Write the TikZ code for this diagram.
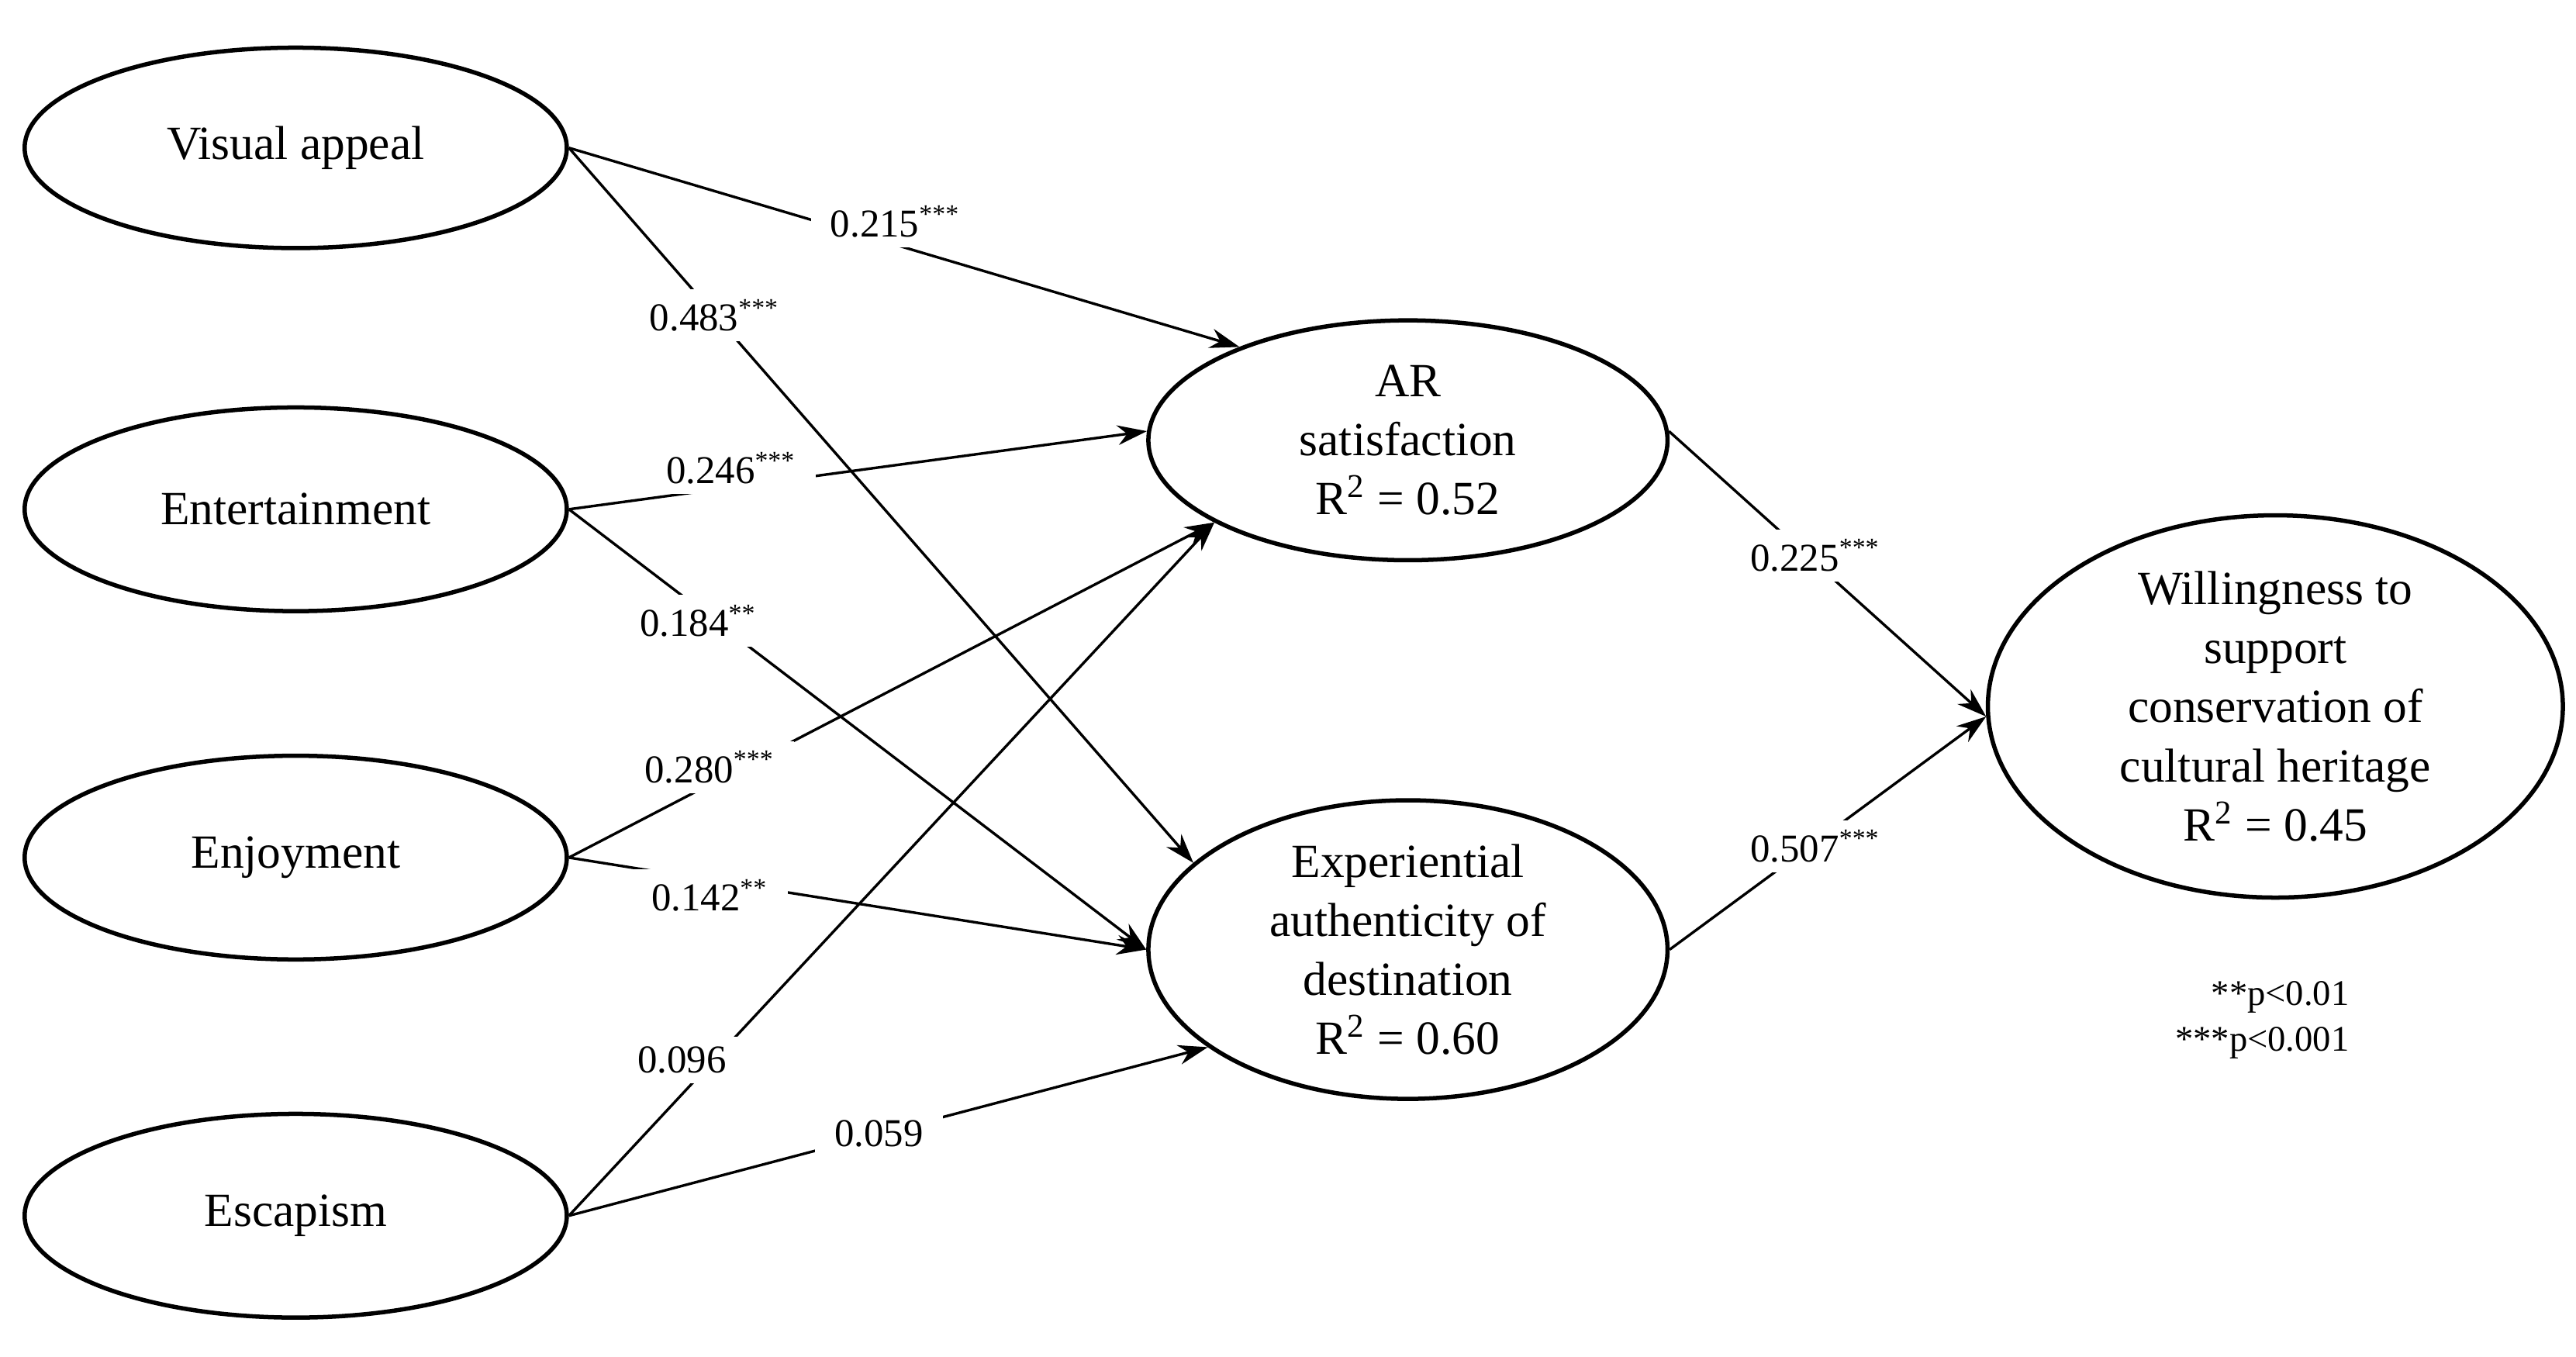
\documentclass[tikz,border=0pt]{standalone}
\usepackage{fontspec}
\setmainfont{Liberation Serif}
\usetikzlibrary{shapes.geometric,arrows.meta}
\begin{document}
\begin{tikzpicture}[x=0.5pt,y=-0.5pt,
  el/.style={draw,line width=1.3pt,ellipse,inner sep=0pt,font=\fontsize{14.5}{18}\selectfont,align=center},
  lab/.style={fill=white,inner xsep=6pt,inner ysep=3pt,font=\fontsize{12}{14}\selectfont},
  ar/.style={line width=0.8pt,-{Stealth[length=9pt,width=6pt]}}]
\useasboundingbox (0,0) rectangle (1568,826);
\node[el,minimum width=165pt,minimum height=61pt] (va) at (180,90) {Visual appeal};
\node[el,minimum width=165pt,minimum height=62pt] (en) at (180,310) {Entertainment};
\node[el,minimum width=165pt,minimum height=62pt] (ej) at (180,522) {Enjoyment};
\node[el,minimum width=165pt,minimum height=62pt] (es) at (180,740) {Escapism};
\node[el,minimum width=158pt,minimum height=73pt] (as) at (857,268) {AR\\satisfaction\\R\textsuperscript{2} = 0.52};
\node[el,minimum width=158pt,minimum height=78pt] (ex) at (857,578) {Experiential\\authenticity of\\destination\\R\textsuperscript{2} = 0.60};
\node[el,minimum width=175pt,minimum height=97pt] (wi) at (1385,430) {Willingness to\\support\\conservation of\\cultural heritage\\R\textsuperscript{2} = 0.45};

\draw[ar] (va.east) -- (as.151);
\draw[ar] (va.east) -- (ex.158);
\draw[ar] (en.east) -- (as.178);
\draw[ar] (en.east) -- (ex.180);
\draw[ar] (ej.east) -- (as.203);
\draw[ar] (ej.east) -- (ex.180);
\draw[ar] (es.east) -- (as.203);
\draw[ar] (es.east) -- (ex.206);
\draw[ar] (as.2) -- (wi.182);
\draw[ar] (ex.0) -- (wi.182);

\node[lab] (l1) at (545,135) {0.215\textsuperscript{***}};
\node[lab] (l2) at (435,192) {0.483\textsuperscript{***}};
\node[lab] (l3) at (445,285) {0.246\textsuperscript{***}};
\node[lab] (l4) at (425,378) {0.184\textsuperscript{**}};
\node[lab] (l5) at (432,467) {0.280\textsuperscript{***}};
\node[lab] (l6) at (432,545) {0.142\textsuperscript{**}};
\node[lab] (l7) at (415,645) {0.096};
\node[lab] (l8) at (535,690) {0.059};
\node[lab] (l9) at (1105,338) {0.225\textsuperscript{***}};
\node[lab] (l10) at (1105,515) {0.507\textsuperscript{***}};

\node[font=\fontsize{11}{13}\selectfont,anchor=east] (n1) at (1437,607) {**p<0.01};
\node[font=\fontsize{11}{13}\selectfont,anchor=east] (n2) at (1437,635) {***p<0.001};
\end{tikzpicture}
\end{document}
